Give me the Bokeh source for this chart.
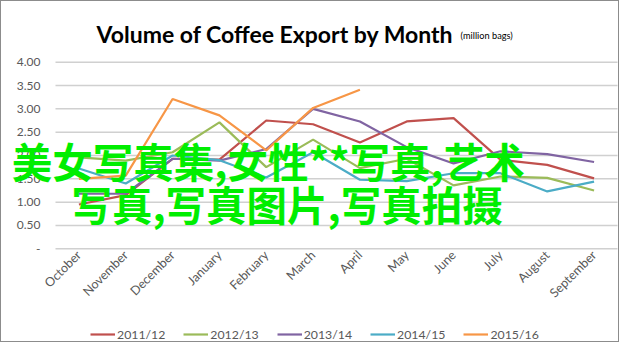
from bokeh.plotting import figure
from bokeh.models import (Range1d, FixedTicker, CustomJSTickFormatter, Label, Legend, LegendItem)
from bokeh.embed import file_html
from bokeh.resources import INLINE

months = ["October", "November", "December", "January", "February", "March",
          "April", "May", "June", "July", "August", "September"]
s2011 = [0.95, 1.15, 1.93, 1.91, 2.75, 2.67, 2.28, 2.73, 2.80, 1.91, 1.80, 1.51]
s2012 = [1.96, 1.89, 2.07, 2.71, 1.75, 2.34, 1.73, 1.93, 1.36, 1.55, 1.52, 1.25]
s2013 = [1.18, 1.18, 1.93, 1.89, 2.14, 3.00, 2.73, 2.18, 1.83, 2.09, 2.03, 1.86]
s2014 = [1.72, 1.40, 2.00, 1.90, 1.53, 2.07, 1.48, 1.45, 1.62, 1.62, 1.23, 1.44]
s2015 = [1.50, 1.57, 3.21, 2.86, 2.11, 3.02, 3.41]
series_names = ["2011/12", "2012/13", "2013/14", "2014/15", "2015/16"]
series_values = [s2011, s2012, s2013, s2014, s2015]
colors = ["#C0504D", "#9BBB59", "#8064A2", "#4BACC6", "#F79646"]
y_ticks = [0, 0.5, 1.0, 1.5, 2.0, 2.5, 3.0, 3.5, 4.0]
title_main = "Volume of Coffee Export by Month"
title_unit = "(million bags)"
overlay_1 = "美女写真集,女性**写真,艺术"
overlay_2 = "写真,写真图片,写真拍摄"

n = len(months)
slot = list(range(n))                      # category slots 0..n-1
centers = [i + 0.5 for i in slot]          # category centres on the axis scale

p = figure(width=619, height=342, x_range=Range1d(-1.153, n + 0.064),
           y_range=Range1d(-2.03, 5.301), output_backend="svg", toolbar_location=None,
           min_border_left=0, min_border_right=0, min_border_top=0, min_border_bottom=0)
p.outline_line_color = None
p.background_fill_color = "white"
p.border_fill_color = "white"
p.xgrid.visible = False
p.ygrid.visible = False

# horizontal gridlines spanning only the category area
p.segment(x0=[0] * len(y_ticks), x1=[n] * len(y_ticks), y0=y_ticks, y1=y_ticks,
          line_color="#D0D0D0", line_width=1.5)

items = []
for name, vals, c in zip(series_names, series_values, colors):
    r = p.line(x=centers[:len(vals)], y=vals, line_color=c, line_width=2.2)
    items.append(LegendItem(label=name, renderers=[r]))

p.yaxis.fixed_location = 0
p.yaxis.ticker = FixedTicker(ticks=y_ticks)
p.yaxis.formatter = CustomJSTickFormatter(code="return tick == 0 ? '-' : tick.toFixed(2);")
p.yaxis.axis_line_color = None
p.yaxis.major_tick_line_color = None
p.yaxis.minor_tick_line_color = None
p.yaxis.major_tick_out = 0
p.yaxis.major_tick_in = 0
p.yaxis.major_label_standoff = 15
p.yaxis.major_label_text_font = "Lato"
p.yaxis.major_label_text_font_size = "12px"
p.yaxis.major_label_text_color = "#595959"

p.xaxis.fixed_location = 0
p.xaxis.ticker = FixedTicker(ticks=centers)
p.xaxis.formatter = CustomJSTickFormatter(args=dict(months=months),
                                          code="const i = Math.round(tick - 0.5); return months[i] || '';")
p.xaxis.axis_line_color = None
p.xaxis.major_tick_line_color = None
p.xaxis.minor_tick_line_color = None
p.xaxis.major_tick_out = 0
p.xaxis.major_tick_in = 0
p.xaxis.major_label_orientation = 0.785398
p.xaxis.major_label_standoff = 4
p.xaxis.major_label_text_font = "Lato"
p.xaxis.major_label_text_font_size = "12.5px"
p.xaxis.major_label_text_color = "#595959"

p.add_layout(Label(x=8.50, y=4.595, text=title_main, text_align="right", text_baseline="alphabetic",
                   text_font="Lato", text_font_style="bold", text_font_size="23px", text_color="#000000"))
p.add_layout(Label(x=8.65, y=4.58, text=title_unit, text_align="left", text_baseline="alphabetic",
                   text_font="Lato", text_font_size="9.2px", text_color="#000000"))

p.add_layout(Label(x=-0.933, y=1.896, text=overlay_1, text_align="left", text_baseline="middle",
                   text_font="Noto Sans CJK SC", text_font_style="bold", text_font_size="40.5px",
                   text_color="#00EE00"))
p.add_layout(Label(x=0.34, y=0.97, text=overlay_2, text_align="left", text_baseline="middle",
                   text_font="Noto Sans CJK SC", text_font_style="bold", text_font_size="40.5px",
                   text_color="#00EE00"))

lg = Legend(items=items, orientation="horizontal", location=(89, 1), padding=0, margin=0,
            spacing=18, glyph_width=25, glyph_height=16, label_height=16, label_standoff=2,
            border_line_color=None, background_fill_alpha=0, label_text_font="Lato",
            label_text_font_size="12.3px", label_text_color="#595959")
p.add_layout(lg, "center")

p.styles = {"border": "1px solid #8C8C8C"}

open("out.html", "w").write(file_html(p, INLINE))
